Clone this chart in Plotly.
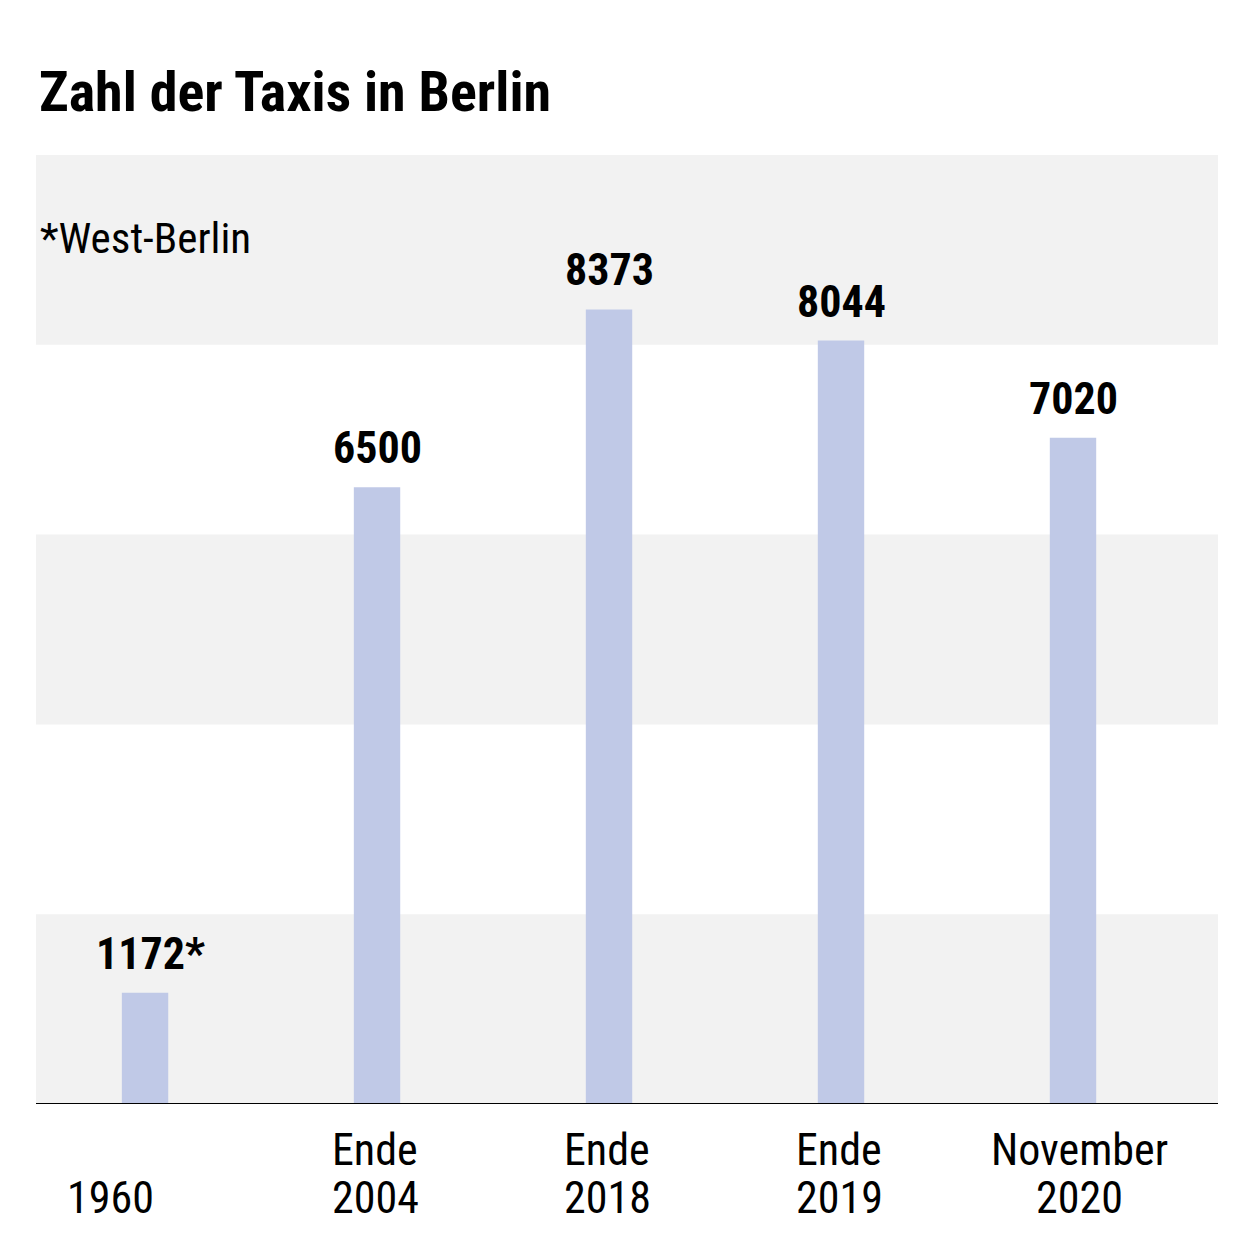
import plotly.graph_objects as go

# data
positions = [0, 1, 2, 3, 4]
values = [1172, 6500, 8373, 8044, 7020]
value_labels = ["1172*", "6500", "8373", "8044", "7020"]
label_line1 = ["", "Ende", "Ende", "Ende", "November"]
label_line2 = ["1960", "2004", "2018", "2019", "2020"]
band_starts = [0, 4000, 8000]

FONT = "Roboto Condensed, Liberation Sans Narrow, sans-serif"

# plot area: x 36..1218, y 155..1104 in the page (page has an 8px body margin)
PLOT_TOP, PLOT_BOTTOM = 155, 1104
PLOT_H = PLOT_BOTTOM - PLOT_TOP

bars = go.Bar(x=positions, y=values, width=0.2, marker=dict(color="#c0c9e7", line=dict(width=0)),
              hoverinfo="skip")

layout = go.Layout(
    width=1244, height=1244,
    margin=dict(l=28, r=34, t=147, b=148),
    paper_bgcolor="white", plot_bgcolor="white",
    showlegend=False,
    font=dict(family=FONT, color="black"),
    xaxis=dict(range=[-0.47, 4.625], showticklabels=False, showgrid=False, zeroline=False,
               showline=False, ticks=""),
    yaxis=dict(range=[0, 10000], showticklabels=False, showgrid=False, zeroline=False,
               showline=False, ticks=""),
)

fig = go.Figure(data=[bars], layout=layout)

# grey background bands
for b in band_starts:
    fig.add_shape(type="rect", xref="paper", yref="y", x0=0, x1=1, y0=b, y1=b + 2000,
                  fillcolor="#f2f2f2", line=dict(width=0), layer="below")

# baseline
fig.add_shape(type="line", xref="paper", yref="y", x0=0, x1=1, y0=0, y1=0,
              line=dict(color="black", width=2))

# value labels
for x, v, t in zip(positions, values, value_labels):
    xs = 5 if t.endswith("*") else 0
    fig.add_annotation(x=x, y=v, text=t, showarrow=False, yanchor="middle", yshift=39, xshift=xs,
                       font=dict(size=44, family=FONT, color="black", weight="bold"))

# category labels
for x, l1, l2 in zip(positions, label_line1, label_line2):
    shift = -35 if x == 0 else (6 if x == 4 else -2)
    fig.add_annotation(x=x, y=0, yref="paper", text=l1, showarrow=False, yanchor="middle",
                       yshift=-46, xshift=shift, font=dict(size=44, family=FONT))
    fig.add_annotation(x=x, y=0, yref="paper", text=l2, showarrow=False, yanchor="middle",
                       yshift=-94, xshift=shift, font=dict(size=44, family=FONT))

# title and note
fig.add_annotation(x=0, y=(PLOT_BOTTOM - 92) / PLOT_H, xref="paper", yref="paper",
                   xanchor="left", yanchor="middle", xshift=1,
                   text="Zahl der Taxis in Berlin", showarrow=False,
                   font=dict(size=56, family=FONT, color="black", weight="bold"))
fig.add_annotation(x=0, y=8000, xref="paper", yref="y", xanchor="left", yanchor="middle",
                   xshift=2, yshift=(344 - 237), text="*West-Berlin", showarrow=False,
                   font=dict(size=43, family=FONT))

fig.write_html("out.html")
